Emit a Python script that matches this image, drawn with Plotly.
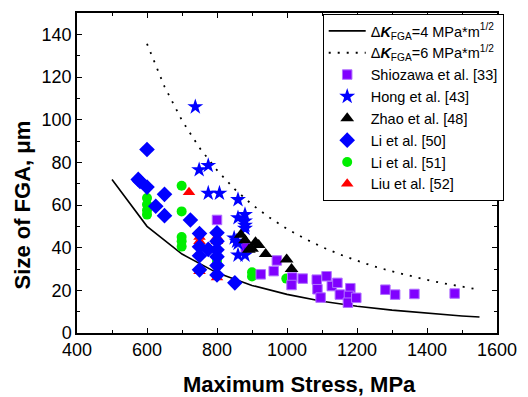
import plotly.graph_objects as go

# ---- data ----
curve4_x = [500, 600, 700, 800, 900, 1000, 1100, 1200, 1300, 1400, 1500, 1550]
curve4_y = [72, 50, 37, 28.2, 22.3, 18.1, 14.9, 12.5, 10.7, 9.2, 8.0, 7.5]

curve6_x = [600, 650, 700, 750, 800, 850, 900, 950, 1000, 1050, 1100, 1150, 1200,
            1250, 1300, 1350, 1400, 1450, 1500, 1550]
curve6_y = [135.6, 115.5, 99.6, 86.8, 76.3, 67.5, 60.2, 54.1, 48.8, 44.3, 40.3, 36.9, 33.9,
            31.2, 28.9, 26.8, 24.9, 23.2, 21.7, 20.3]

shio_x = [800, 882, 925, 962, 971, 1015, 1013, 1045, 1085, 1087, 1096, 1113, 1128, 1144,
          1151, 1181, 1177, 1174, 1198, 1281, 1309, 1364, 1479]
shio_y = [53, 40, 27.5, 29, 34, 26, 22.5, 25.5, 25, 20.5, 16.6, 26.6, 22, 23.5,
          18, 21, 17.4, 14.2, 16.5, 20.3, 18, 18.3, 18.5]

hong_x = [738, 749, 775, 775, 807, 860, 860, 880, 880, 880, 880, 849, 856, 860, 860, 880]
hong_y = [106, 76.5, 78.5, 65.5, 65.5, 62.5, 54, 55.5, 52.5, 50.5, 49, 44.5, 43, 42, 36.5, 36.5]

zhao_x = [868, 880, 891, 900, 910, 919, 939, 999, 1013]
zhao_y = [46, 43.5, 39, 39.5, 42.5, 41.2, 37, 34.5, 30]

li50_x = [600, 575, 580, 600, 650, 625, 650, 724, 750, 750, 775, 750, 750,
          800, 800, 800, 800, 800, 800, 851]
li50_y = [86, 72, 71, 68.4, 65, 59.4, 55, 53, 46.6, 40.4, 39.2, 36.2, 29.6,
          47, 43, 39, 35.8, 31.6, 27.2, 23.5]

li51_x = [699, 600, 600, 600, 600, 699, 699, 699, 699, 800, 900, 900, 998]
li51_y = [69, 63.3, 60.2, 57.5, 55.5, 57, 45, 43, 40.5, 33.7, 28.5, 26.5, 25.5]

liu_x = [720, 750, 750, 750, 800, 800, 800, 800]
liu_y = [66, 45, 43, 29, 45, 43, 40, 26]

x_title = "Maximum Stress, MPa"
y_title = "Size of FGA, μm"

FONT = "Arial, Liberation Sans, sans-serif"

fig = go.Figure()

fig.add_trace(go.Scatter(x=curve4_x, y=curve4_y, mode="lines",
                         line=dict(color="black", width=1.6),
                         name="Δ<b><i>K</i></b><sub>FGA</sub>=4 MPa*m<sup>1/2</sup>", legendrank=1))
fig.add_trace(go.Scatter(x=curve6_x, y=curve6_y, mode="lines",
                         line=dict(color="black", width=1.8, dash="2px,7px"),
                         name="Δ<b><i>K</i></b><sub>FGA</sub>=6 MPa*m<sup>1/2</sup>", legendrank=2))

fig.add_trace(go.Scatter(x=liu_x, y=liu_y, mode="markers", name="Liu et al. [52]",
                         marker=dict(symbol="triangle-up", size=11, color="#ff0000"),
                         legendrank=8))
fig.add_trace(go.Scatter(x=li51_x, y=li51_y, mode="markers", name="Li et al. [51]",
                         marker=dict(symbol="circle", size=10, color="#00ee00"),
                         legendrank=7))
fig.add_trace(go.Scatter(x=shio_x, y=shio_y, mode="markers", name="Shiozawa et al. [33]",
                         marker=dict(symbol="square", size=9.5, color="#8000ff",
                                     line=dict(color="#b070ff", width=1)),
                         legendrank=3))
fig.add_trace(go.Scatter(x=li50_x, y=li50_y, mode="markers", name="Li et al. [50]",
                         marker=dict(symbol="diamond", size=12, color="#0000ff"),
                         legendrank=6))
fig.add_trace(go.Scatter(x=hong_x, y=hong_y, mode="markers", name="Hong et al. [43]",
                         marker=dict(symbol="star", size=12, color="#0000ff"),
                         legendrank=4))
fig.add_trace(go.Scatter(x=zhao_x, y=zhao_y, mode="markers", name="Zhao et al. [48]",
                         marker=dict(symbol="triangle-up", size=12, color="#000000"),
                         legendrank=5))

axis_common = dict(showline=True, linecolor="black", linewidth=1.5, mirror="allticks",
                   ticks="inside", ticklen=5, tickwidth=1, tickcolor="black",
                   showgrid=False, zeroline=False, ticklabeloverflow="allow",
                   tickfont=dict(family=FONT, size=18, color="black"))

fig.update_xaxes(range=[400, 1600], dtick=200, tick0=400,
                 minor=dict(ticks="inside", ticklen=3, dtick=100, tickcolor="black", showgrid=False),
                 **axis_common)
fig.update_yaxes(range=[0, 150], dtick=20, tick0=0,
                 minor=dict(ticks="inside", ticklen=3, dtick=10, tickcolor="black", showgrid=False),
                 **axis_common)

fig.add_annotation(text="<b>" + x_title + "</b>", xref="paper", yref="paper",
                   x=0.529, y=-0.161, xanchor="center", yanchor="middle", showarrow=False,
                   font=dict(family=FONT, size=22, color="black"))
fig.add_annotation(text="<b>" + y_title + "</b>", xref="paper", yref="paper",
                   x=-0.13, y=0.40, xanchor="center", yanchor="middle", showarrow=False,
                   textangle=-90, font=dict(family=FONT, size=22, color="black"))

fig.update_layout(
    width=528, height=397,
    margin=dict(l=77, r=20, t=11, b=64),
    paper_bgcolor="white", plot_bgcolor="white",
    font=dict(family=FONT, color="black"),
    showlegend=True,
    legend=dict(x=0.585, y=0.997, xanchor="left", yanchor="top",
                bordercolor="black", borderwidth=1, bgcolor="white",
                font=dict(family=FONT, size=14.5, color="black"),
                tracegroupgap=0, itemwidth=37),
)

fig.write_html("out.html")
